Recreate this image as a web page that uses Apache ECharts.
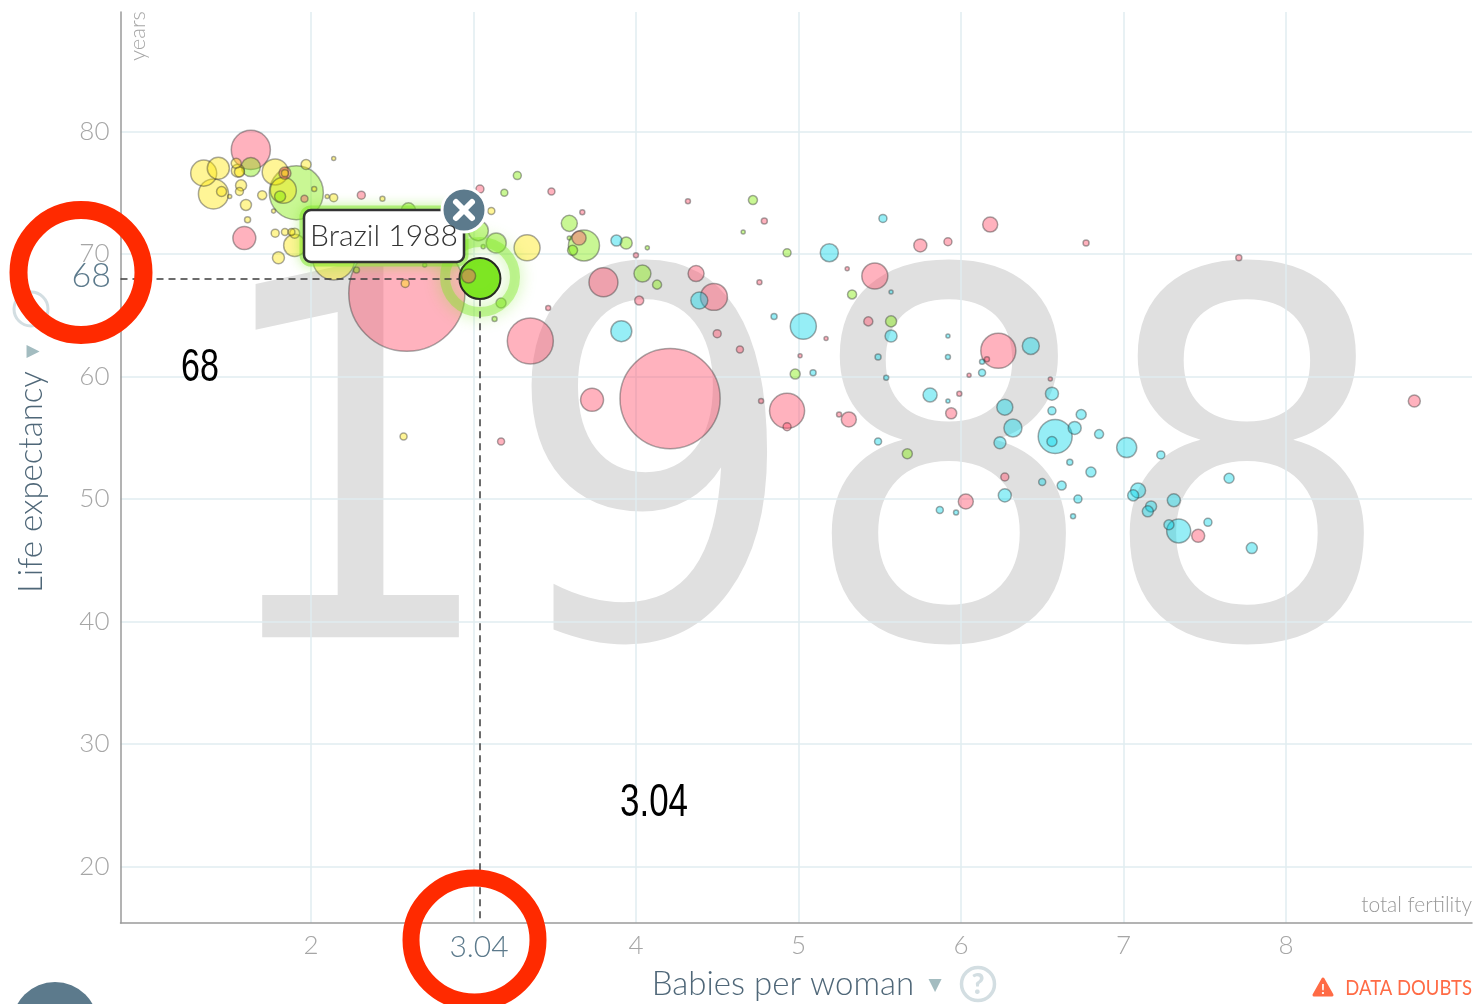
<!DOCTYPE html>
<html>
<head>
<meta charset="utf-8">
<title>Brazil 1988</title>
<script src="https://cdn.jsdelivr.net/npm/echarts@6/dist/echarts.min.js"></script>
<style>
    html, body { margin: 0; padding: 0; background: #fff; }
    #chart { width: 1475px; height: 1004px; }
</style>
</head>
<body>
<div id="chart"></div>
<script>
    // [babies per woman, life expectancy, population in millions]
    var asia = [
        [1.63, 78.5, 122], [1.84, 76.6, 11.5], [1.96, 74.5, 3.9], [2.31, 74.8, 5.1], [1.59, 71.3, 42],
        [2.59, 66.8, 1076], [3.04, 75.3, 5.1], [3.48, 75.1, 3.9], [2.97, 68.2, 15.7], [3.46, 65.6, 2],
        [3.35, 62.9, 169], [3.17, 54.7, 3.9], [3.67, 73.4, 2], [3.65, 71.3, 15.7], [4.32, 74.3, 2],
        [4.79, 72.7, 2.9], [4.0, 69.9, 2], [3.80, 67.7, 67], [4.02, 66.2, 6.5], [4.37, 68.4, 20.5],
        [4.48, 66.5, 58], [4.76, 67.7, 2], [4.50, 63.5, 5.1], [4.64, 62.2, 3.9], [4.21, 58.2, 800],
        [3.73, 58.1, 42], [4.77, 58.0, 2], [6.18, 72.4, 18], [5.75, 70.7, 13.5], [5.92, 71.0, 5.1],
        [6.77, 70.9, 2.9], [5.30, 68.8, 1.3], [5.47, 68.2, 54], [5.17, 63.1, 1.3], [5.43, 64.5, 6.5],
        [6.23, 62.1, 98], [5.01, 61.7, 1.3], [6.16, 61.4, 2], [6.05, 60.1, 1.3], [6.55, 59.8, 1.3],
        [5.99, 58.6, 2], [4.93, 57.2, 98], [4.93, 55.9, 5.1], [5.25, 56.9, 2], [5.31, 56.5, 18],
        [5.94, 57.0, 9.7], [6.27, 51.8, 5.1], [6.03, 49.8, 18], [7.46, 47.0, 13.5], [8.79, 58.0, 11.5],
        [7.71, 69.7, 2.9]
    ]
    var africa = [
        [3.88, 71.1, 9.7], [4.39, 66.2, 23], [4.85, 64.9, 2.9], [3.91, 63.7, 35], [5.52, 72.9, 5.1],
        [5.19, 70.1, 26], [5.57, 66.9, 1.3], [5.03, 64.1, 54], [5.57, 63.3, 11.5], [5.92, 63.3, 1.3],
        [6.43, 62.5, 23], [5.49, 61.6, 2.9], [5.92, 61.6, 2], [6.13, 61.2, 2], [5.09, 60.3, 2.9],
        [5.54, 59.9, 2], [6.13, 60.3, 3.9], [6.56, 58.6, 13.5], [5.81, 58.5, 15.7], [5.92, 58.0, 1.3],
        [6.27, 57.5, 20.5], [6.56, 57.2, 5.1], [6.74, 56.9, 8], [6.32, 55.8, 26], [6.70, 55.8, 13.5],
        [6.58, 55.1, 92], [6.56, 54.7, 8], [6.85, 55.3, 6.5], [6.24, 54.6, 11.5], [5.49, 54.7, 3.9],
        [6.67, 53.0, 2.9], [6.80, 52.2, 8], [6.50, 51.4, 3.9], [6.62, 51.1, 6.5], [6.27, 50.3, 13.5],
        [6.72, 50.0, 5.1], [5.87, 49.1, 3.9], [5.97, 48.9, 2], [6.69, 48.6, 2], [7.23, 53.6, 5.1],
        [7.02, 54.2, 32], [7.65, 51.7, 8], [7.09, 50.7, 18], [7.06, 50.3, 9.7], [7.31, 49.9, 13.5],
        [7.17, 49.4, 9.7], [7.15, 49.0, 9.7], [7.28, 47.9, 8], [7.34, 47.4, 46], [7.52, 48.1, 5.1],
        [7.79, 46.0, 9.7]
    ]
    var americas = [
        [1.63, 77.1, 29], [1.91, 75.0, 233], [1.81, 74.7, 9.7], [2.28, 68.7, 2.9], [2.60, 73.6, 15.7],
        [2.70, 69.1, 1.3], [3.03, 71.9, 32], [3.14, 70.9, 32], [3.06, 70.6, 1.3], [3.19, 75.0, 3.9],
        [3.27, 76.4, 5.1], [3.17, 66.0, 8], [3.13, 64.7, 2], [3.59, 72.5, 20.5], [3.68, 70.7, 77],
        [3.61, 70.3, 8], [3.59, 71.3, 1.3], [3.94, 70.9, 11.5], [4.07, 70.5, 1.3], [4.72, 74.4, 6.5],
        [4.66, 71.8, 1.3], [4.04, 68.4, 23], [4.13, 67.5, 6.5], [4.93, 70.1, 5.1], [5.33, 66.7, 6.5],
        [5.57, 64.5, 9.7], [4.98, 60.2, 8], [5.67, 53.7, 8]
    ]
    var europe = [
        [1.34, 76.6, 54], [1.43, 77.0, 39], [1.40, 74.9, 72], [1.45, 75.1, 8], [1.54, 77.4, 8],
        [1.55, 76.8, 13.5], [1.56, 76.7, 8], [1.78, 76.7, 54], [1.83, 75.2, 54], [1.84, 76.6, 3.9],
        [1.97, 77.3, 8], [2.14, 77.8, 1.3], [1.57, 75.6, 9.7], [1.56, 75.1, 5.1], [1.50, 74.7, 1.3],
        [1.70, 74.8, 6.5], [1.60, 74.0, 9.7], [1.61, 72.8, 2.9], [1.77, 73.5, 1.3], [2.02, 75.3, 2],
        [2.10, 74.7, 1.3], [2.14, 74.6, 5.1], [2.44, 74.5, 2], [1.78, 71.7, 5.1], [1.84, 71.8, 3.9],
        [1.88, 71.8, 3.9], [1.90, 71.7, 8], [1.90, 70.7, 39], [1.80, 69.7, 11.5], [2.14, 69.6, 141],
        [3.11, 73.5, 3.9], [3.33, 70.5, 54], [2.58, 67.6, 5.1], [2.57, 55.1, 3.9]
    ]
    var brazil = [3.04, 68, 134]

    var xTicks = [2, 3, 4, 5, 6, 7, 8]
    var yTicks = [20, 30, 40, 50, 60, 70, 80]
    var xLabels = [2, 4, 5, 6, 7, 8]

    var xMin = 0.828, xMax = 9.145
    var yMin = 15.4, yMax = 89.75

    var labelFont = 'Lato, "Open Sans", sans-serif'
    var noteFont = '46px "Liberation Sans"'
    var slate = '#5c7a8c'
    var titleColor = '#4f6778'
    var ringRed = '#ff2a00'
    var paleIcon = '#d3dee2'

    // 气泡面积跟人口成正比
    function popToSize (pop) {
        return 3.54 * Math.sqrt(pop)
    }

    function makeItems (rows, fill) {
        return rows.map(function (row) {
            return {
                value: row,
                symbolSize: popToSize(row[2]),
                itemStyle: {
                    color: fill,
                    opacity: 1,
                    borderColor: 'rgba(50, 50, 50, 0.42)',
                    borderWidth: 1.5
                }
            }
        })
    }

    var items = []
        .concat(makeItems(asia, 'rgba(255, 88, 114, 0.46)'))
        .concat(makeItems(africa, 'rgba(0, 213, 233, 0.41)'))
        .concat(makeItems(americas, 'rgba(127, 235, 0, 0.42)'))
        .concat(makeItems(europe, 'rgba(255, 231, 0, 0.41)'))
    items.push({
        value: brazil,
        symbolSize: popToSize(brazil[2]),
        itemStyle: { color: '#7ee623', opacity: 1, borderColor: '#222', borderWidth: 2 }
    })
    // 大的先画，小的压在上面
    items.sort(function (a, b) {
        return b.value[2] - a.value[2]
    })

    function text (str, x, y, font, fill, align, rotation, scaleX) {
        return {
            type: 'text',
            x: x,
            y: y,
            rotation: rotation || 0,
            scaleX: scaleX || 1,
            z: 50,
            style: { text: str, font: font, fill: fill, align: align || 'center', verticalAlign: 'middle' }
        }
    }

    var chart = echarts.init(document.getElementById('chart'))
    var option = {
        animation: false,
        backgroundColor: '#fff',
        grid: { left: 120.5, right: 3, top: 12, bottom: 81 },
        xAxis: {
            type: 'value',
            min: xMin,
            max: xMax,
            axisLine: { onZero: false, lineStyle: { color: '#9a9a9a', width: 1.5 } },
            axisTick: { show: false, customValues: xTicks },
            axisLabel: {
                customValues: xLabels,
                margin: 10,
                color: '#a6a6a6',
                fontSize: 26,
                fontFamily: labelFont,
                fontWeight: 300
            },
            splitLine: { show: true, lineStyle: { color: '#e0edf0', width: 1.5 } }
        },
        yAxis: {
            type: 'value',
            min: yMin,
            max: yMax,
            axisLine: { onZero: false, lineStyle: { color: '#9a9a9a', width: 1.5 } },
            axisTick: { show: false, customValues: yTicks },
            axisLabel: {
                customValues: yTicks,
                margin: 11,
                color: '#a6a6a6',
                fontSize: 26,
                fontFamily: labelFont,
                fontWeight: 300,
                padding: [2, 0, 0, 0]
            },
            splitLine: { show: true, lineStyle: { color: '#e0edf0', width: 1.5 } }
        },
        series: [{
            type: 'scatter',
            z: 3,
            data: items,
            markLine: {
                silent: true,
                symbol: 'none',
                label: { show: false },
                lineStyle: { color: '#3c3c3c', type: [7, 5], width: 1.5 },
                data: [
                    [{ coord: [xMin, brazil[1]] }, { coord: [brazil[0] - 0.12, brazil[1]] }],
                    [{ coord: [brazil[0], brazil[1] - 1.7] }, { coord: [brazil[0], yMin] }]
                ]
            }
        }],
        graphic: [
            // 年份水印，在网格线下面
            {
                type: 'text',
                x: 800,
                y: 505,
                z: -5,
                scaleX: 0.92,
                style: {
                    text: '1988',
                    font: '509px "DejaVu Sans"',
                    fill: '#e0e0e0',
                    align: 'center',
                    verticalAlign: 'middle'
                }
            },
            // Brazil 的高亮
            {
                type: 'circle',
                z: 4,
                shape: { cx: 480, cy: 277, r: 35 },
                style: {
                    fill: 'none',
                    stroke: 'rgba(126, 230, 35, 0.42)',
                    lineWidth: 10,
                    shadowBlur: 16,
                    shadowColor: 'rgba(126, 230, 35, 0.95)'
                }
            },
            {
                type: 'rect',
                z: 39,
                shape: { x: 304, y: 210, width: 160, height: 52, r: 7 },
                style: {
                    fill: 'none',
                    stroke: 'rgba(126, 230, 35, 0.5)',
                    lineWidth: 9,
                    shadowBlur: 12,
                    shadowColor: 'rgba(126, 230, 35, 0.95)'
                }
            },
            {
                type: 'rect',
                z: 40,
                shape: { x: 304, y: 210, width: 160, height: 52, r: 7 },
                style: { fill: '#fff', stroke: '#333', lineWidth: 2.5 }
            },
            text('Brazil 1988', 384, 236, '300 30px ' + labelFont, '#333'),
            {
                type: 'circle',
                z: 45,
                shape: { cx: 464, cy: 210, r: 22 },
                style: { fill: slate, stroke: '#fff', lineWidth: 3 }
            },
            {
                type: 'line',
                z: 46,
                shape: { x1: 456, y1: 202, x2: 472, y2: 218 },
                style: { stroke: '#fff', lineWidth: 6, lineCap: 'round' }
            },
            {
                type: 'line',
                z: 46,
                shape: { x1: 472, y1: 202, x2: 456, y2: 218 },
                style: { stroke: '#fff', lineWidth: 6, lineCap: 'round' }
            },
            // 轴标题
            text('years', 138, 36, '300 22px ' + labelFont, '#a6a6a6', 'center', Math.PI / 2),
            text('Life expectancy', 31, 482, '300 33px ' + labelFont, titleColor, 'center', Math.PI / 2),
            text('\u25B6', 33, 352, '17px "DejaVu Sans"', '#a3bcc0'),
            {
                type: 'circle',
                z: 20,
                shape: { cx: 31, cy: 309, r: 17 },
                style: { fill: 'none', stroke: paleIcon, lineWidth: 3 }
            },
            text('Babies per woman', 783, 984, '300 33px ' + labelFont, titleColor),
            text('\u25BC', 935, 986, '17px "DejaVu Sans"', '#a3bcc0'),
            {
                type: 'circle',
                z: 20,
                shape: { cx: 978, cy: 984, r: 16.5 },
                style: { fill: 'none', stroke: paleIcon, lineWidth: 3.5 }
            },
            text('?', 978, 985, '900 28px ' + labelFont, paleIcon),
            text('total fertility', 1472, 905, '300 21px ' + labelFont, '#999', 'right'),
            // DATA DOUBTS
            {
                type: 'polygon',
                z: 20,
                shape: { points: [[1323, 979], [1332, 995], [1314, 995]] },
                style: { fill: '#ff6b45', stroke: '#ff6b45', lineWidth: 3, lineJoin: 'round' }
            },
            text('!', 1323, 989, 'bold 14px ' + labelFont, '#fff'),
            text('DATA DOUBTS', 1472, 988, '400 21px ' + labelFont, '#ff6b45', 'right', 0, 0.88),
            // 左下角的按钮
            {
                type: 'circle',
                z: 20,
                shape: { cx: 55, cy: 1025, r: 43 },
                style: { fill: slate }
            },
            // 当前值
            text('68', 111, 276, '300 34px ' + labelFont, slate, 'right'),
            text('3.04', 479, 947, '300 30px ' + labelFont, slate),
            // 红圈和黑色批注
            {
                type: 'circle',
                z: 60,
                shape: { cx: 81, cy: 272.5, r: 62.5 },
                style: { fill: 'none', stroke: ringRed, lineWidth: 18 }
            },
            {
                type: 'ellipse',
                z: 60,
                shape: { cx: 474.5, cy: 940, rx: 63.5, ry: 62 },
                style: { fill: 'none', stroke: ringRed, lineWidth: 17 }
            },
            text('68', 200, 368, noteFont, '#000', 'center', 0, 0.74),
            text('3.04', 654, 803, noteFont, '#000', 'center', 0, 0.76)
        ]
    }
    chart.setOption(option)
</script>
</body>
</html>
